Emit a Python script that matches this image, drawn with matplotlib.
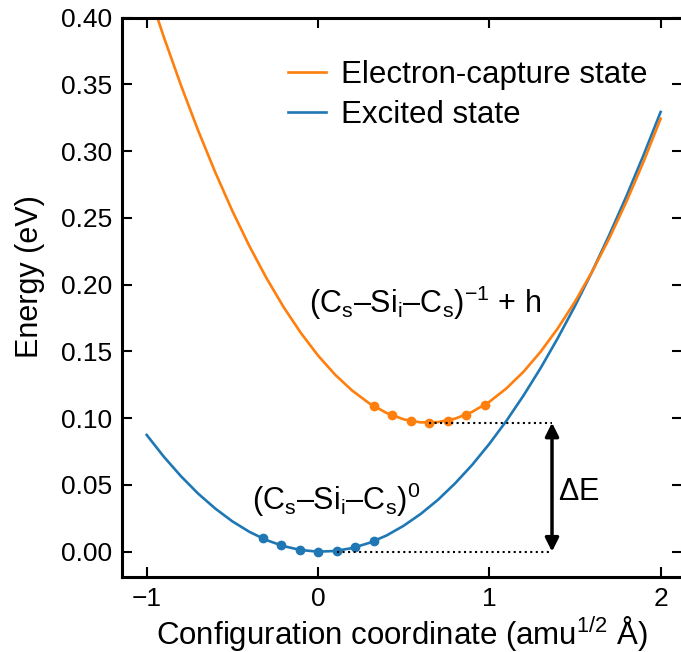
import matplotlib
matplotlib.use('Agg')
import matplotlib.pyplot as plt
from matplotlib.ticker import FormatStrFormatter

plt.rcParams['font.family'] = ['Liberation Sans', 'DejaVu Sans']
plt.rcParams['mathtext.fontset'] = 'custom'
plt.rcParams['mathtext.rm'] = 'Liberation Sans'
plt.rcParams['mathtext.it'] = 'Liberation Sans:italic'
plt.rcParams['mathtext.default'] = 'regular'

# configuration coordinate grid for the fitted curves
q = [-1.0, -0.9, -0.8, -0.7, -0.6, -0.5, -0.4, -0.3, -0.2, -0.1, 0.0,
     0.1, 0.2, 0.3, 0.4, 0.5, 0.6, 0.7, 0.8, 0.9, 1.0,
     1.1, 1.2, 1.3, 1.4, 1.5, 1.6, 1.7, 1.8, 1.9, 2.0]

# excited state (Cs-Sii-Cs)0
e_excited = [0.0874, 0.0711, 0.0565, 0.0435, 0.0323, 0.0227, 0.0148, 0.0086, 0.0041, 0.0012, 0.0000,
             0.0005, 0.0027, 0.0066, 0.0121, 0.0194, 0.0283, 0.0388, 0.0511, 0.0650, 0.0807,
             0.0980, 0.1170, 0.1376, 0.1600, 0.1840, 0.2097, 0.2371, 0.2661, 0.2969, 0.3293]

# electron-capture state (Cs-Sii-Cs)-1 + h
e_capture = [0.4240, 0.3854, 0.3493, 0.3155, 0.2842, 0.2552, 0.2287, 0.2047, 0.1830, 0.1638, 0.1469,
             0.1325, 0.1206, 0.1110, 0.1039, 0.0991, 0.0968, 0.0970, 0.0996, 0.1047, 0.1122,
             0.1223, 0.1348, 0.1498, 0.1673, 0.1872, 0.2097, 0.2346, 0.2620, 0.2919, 0.3243]

# calculated points
q_exc_pts = [-0.324, -0.216, -0.108, 0.0, 0.108, 0.216, 0.324]
e_exc_pts = [0.0099, 0.0047, 0.0014, 0.0000, 0.0006, 0.0032, 0.0078]
q_cap_pts = [0.324, 0.432, 0.540, 0.648, 0.756, 0.864, 0.972]
e_cap_pts = [0.1091, 0.1021, 0.0979, 0.0966, 0.0981, 0.1026, 0.1099]

q_arrow = 1.366
e_min_capture = 0.0966
e_min_excited = 0.0

blue = '#1f77b4'
orange = '#ff7f0e'

fig = plt.figure(figsize=(6.81, 6.52), dpi=100)
ax = fig.add_axes([0.1787, 0.115, 0.8228, 0.858])

l_exc, = ax.plot(q, e_excited, color=blue, lw=1.9)
l_cap, = ax.plot(q, e_capture, color=orange, lw=1.9)
ax.plot(q_exc_pts, e_exc_pts, 'o', color=blue, ms=6)
ax.plot(q_cap_pts, e_cap_pts, 'o', color=orange, ms=6)

# energy gap between the two minima
ax.plot([q_cap_pts[3], q_arrow], [e_min_capture, e_min_capture], ':', color='k', lw=1.5)
ax.plot([q_exc_pts[4], q_arrow], [e_min_excited, e_min_excited], ':', color='k', lw=1.5)
ax.annotate('', xy=(q_arrow, e_min_capture), xytext=(q_arrow, e_min_excited),
            arrowprops=dict(arrowstyle='<|-|>', color='k', lw=2.5,
                            mutation_scale=20, shrinkA=0, shrinkB=0))
ax.text(q_arrow + 0.035, 0.045, r'$\Delta$E', fontsize=22, va='center', ha='left')

ax.text(0.627, 0.179, r'(C$_s$–Si$_i$–C$_s$)$^{-1}$ + h', fontsize=22,
        ha='center', va='baseline')
ax.text(0.104, 0.031, r'(C$_s$–Si$_i$–C$_s$)$^0$', fontsize=22,
        ha='center', va='baseline')

ax.legend([l_cap, l_exc], ['Electron-capture state', 'Excited state'],
          loc='upper left', bbox_to_anchor=(0.297, 0.924), frameon=False,
          fontsize=22.5, handlelength=1.2, handletextpad=0.5, labelspacing=0.33,
          borderpad=0, borderaxespad=0)

ax.set_xlim(-1.146, 2.125)
ax.set_ylim(-0.019, 0.40)
ax.set_xticks([-1, 0, 1, 2])
ax.set_yticks([0.0, 0.05, 0.10, 0.15, 0.20, 0.25, 0.30, 0.35, 0.40])
ax.yaxis.set_major_formatter(FormatStrFormatter('%.2f'))
ax.tick_params(direction='in', length=7, width=1.5, labelsize=19, pad=7,
               top=True, right=True)
for s in ax.spines.values():
    s.set_linewidth(2.2)

ax.set_xlabel('Configuration coordinate (amu$^{1/2}$ Å)', fontsize=22.5, labelpad=2)
ax.set_ylabel('Energy (eV)', fontsize=22)
ax.yaxis.set_label_coords(-0.137, 0.537)

fig.savefig('out.png', dpi=100)
